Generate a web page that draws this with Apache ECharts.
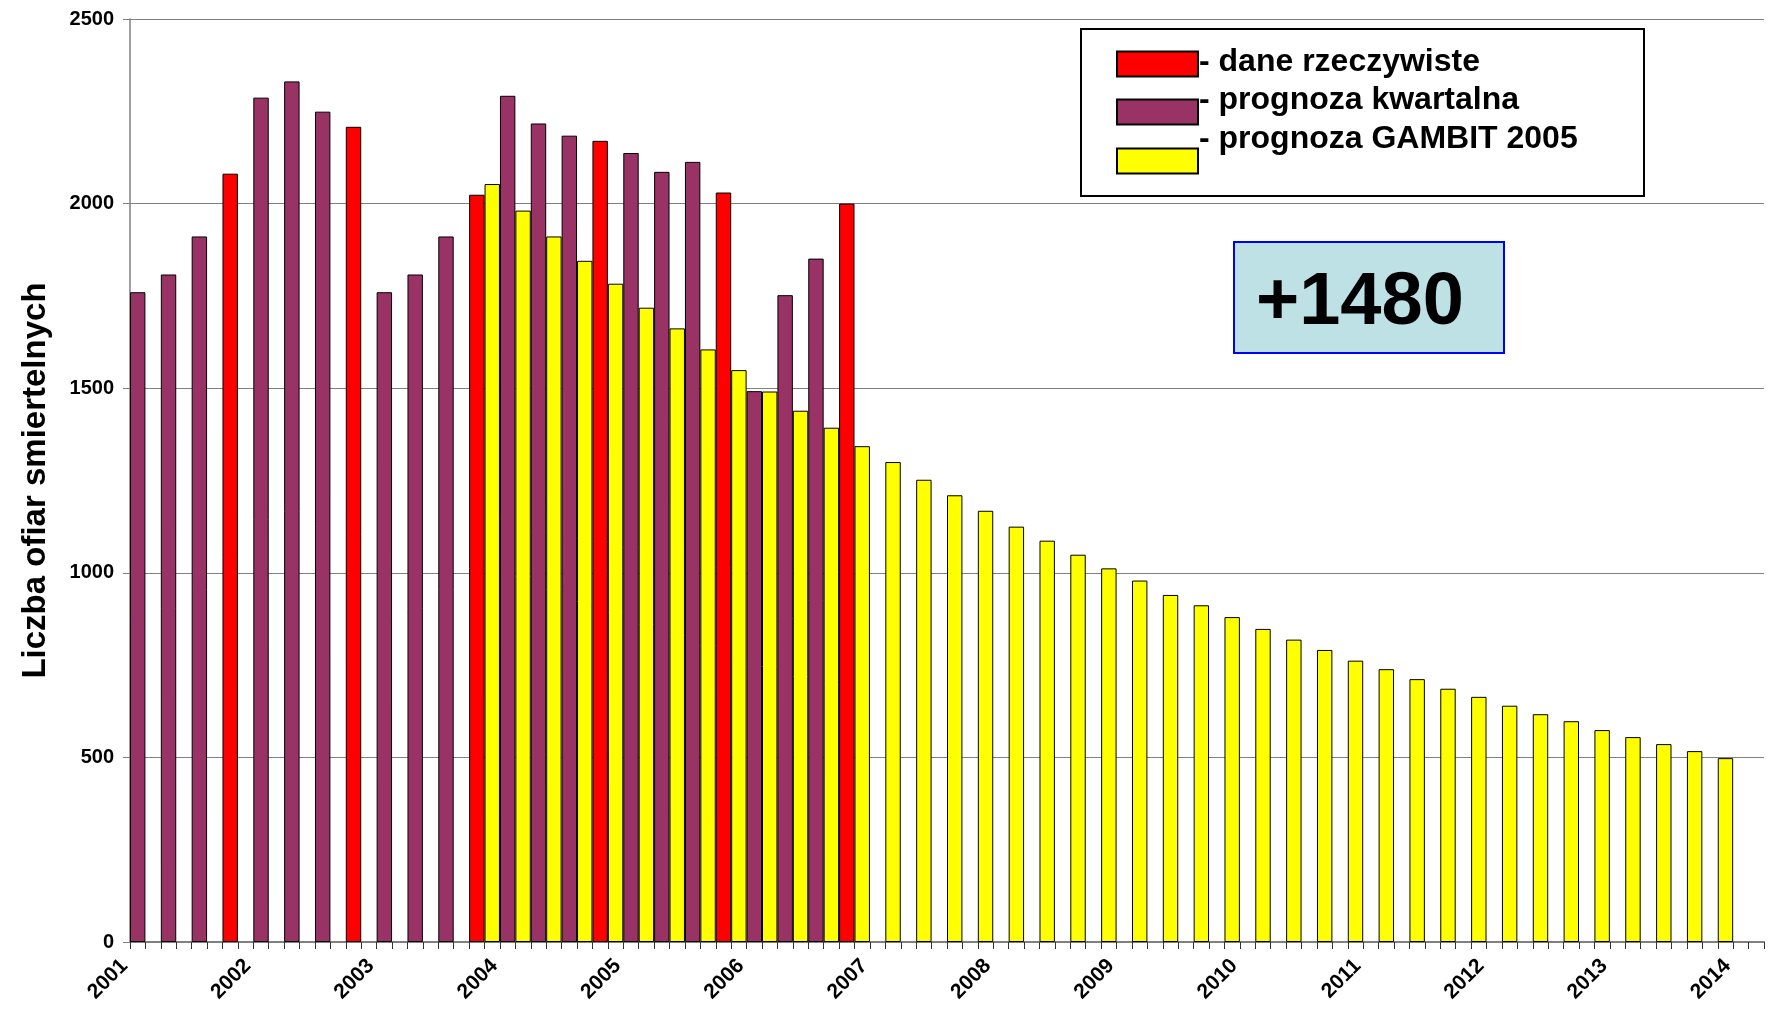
<!DOCTYPE html>
<html>
<head>
<meta charset="utf-8">
<script src="https://cdn.jsdelivr.net/npm/echarts@6/dist/echarts.min.js"></script>
<style>
html,body{margin:0;padding:0;background:#fff;}
#chart{width:1771px;height:1024px;}
</style>
</head>
<body>
<div id="chart"></div>
<script>
// ---- data ----
const years = ['2001','2002','2003','2004','2005','2006','2007','2008','2009','2010','2011','2012','2013','2014'];
const quarterNames = ['I','II','III','IV'];
// actual data (Q4 of each year 2001-2006)
const actualData = [2081, 2208, 2024, 2170, 2030, 2000];
// quarterly forecast, 2001 Q1 .. 2006 Q4 (Q4 = actual data)
const quarterlyForecast = [
  1760, 1808, 1911, null,
  2287, 2331, 2249, null,
  1760, 1808, 1911, null,
  2292, 2217, 2184, null,
  2137, 2086, 2113, null,
  1492, 1752, 1851, null
];
// GAMBIT 2005 forecast, 2001 Q1 .. 2013 Q4
const gambit2005 = [
  null, null, null, null,
  null, null, null, null,
  null, null, null, 2053,
  1981, 1911, 1845, 1783,
  1718, 1662, 1605, 1549,
  1491, 1439, 1393, 1343,
  1300, 1252, 1210, 1168,
  1125, 1087, 1049, 1012,
  979, 940, 912, 880,
  848, 819, 791, 762,
  739, 712, 686, 664,
  640, 617, 598, 574,
  555, 536, 517, 498
];
const seriesNames = ['dane rzeczywiste', 'prognoza kwartalna', 'prognoza GAMBIT 2005'];
const seriesColors = ['#FF0000', '#993366', '#FFFF00'];
const annotationText = '+1480';

// ---- build slots: two slots per quarter (left: actual/quarterly, right: GAMBIT) ----
const nQuarters = (years.length - 1) * 4 + 1;
const categories = [], redSlots = [], purpleSlots = [], yellowSlots = [];
for (let q = 0; q < nQuarters; q++) {
  const y = years[Math.floor(q / 4)];
  const qi = q % 4;
  categories.push(y + ' ' + quarterNames[qi] + ' a');
  categories.push(y + ' ' + quarterNames[qi] + ' b');
  const yIdx = Math.floor(q / 4);
  const isQ4 = qi === 3;
  redSlots.push(isQ4 && yIdx < actualData.length ? actualData[yIdx] : null);
  redSlots.push(null);
  purpleSlots.push(q < quarterlyForecast.length ? quarterlyForecast[q] : null);
  purpleSlots.push(null);
  yellowSlots.push(null);
  yellowSlots.push(q < gambit2005.length ? gambit2005[q] : null);
}

const FONT = "'Liberation Sans', Arial, sans-serif";
const chart = echarts.init(document.getElementById('chart'), null, {renderer: 'canvas'});

function legendFor(i, top, shift) {
  return {
    orient: 'vertical',
    left: 1116, top: top,
    padding: 0,
    itemWidth: 81, itemHeight: 25,
    icon: 'rect',
    formatter: name => '{t|- ' + name + '}',
    textStyle: {
      fontFamily: FONT, fontWeight: 'bold', fontSize: 32, color: '#000',
      rich: {
        t: {fontFamily: FONT, fontWeight: 'bold', fontSize: 32, color: '#000',
            lineHeight: 25, padding: [0, 0, 2 * shift, -4]}
      }
    },
    data: [seriesNames[i]],
    z: 10
  };
}

const barBase = {
  type: 'bar',
  barWidth: '100%',
  barGap: '-100%',
  barCategoryGap: 0,
  xAxisIndex: 0
};
chart.setOption({
  animation: false,
  backgroundColor: '#fff',
  grid: {left: 130, right: 7, top: 19, bottom: 82, containLabel: false},
  legend: [legendFor(0, 46, 2), legendFor(1, 84, 12), legendFor(2, 123, 22)],
  xAxis: [{
    type: 'category',
    data: categories,
    position: 'bottom',
    axisLine: {lineStyle: {color: '#808080', width: 2}},
    axisTick: {show: true, interval: 0, length: 7, lineStyle: {color: '#333', width: 1}},
    axisLabel: {show: false},
    splitLine: {show: false}
  }, {
    type: 'value',
    position: 'bottom',
    min: 0,
    max: categories.length,
    interval: 8,
    axisLine: {show: false},
    axisTick: {show: false},
    splitLine: {show: false},
    axisLabel: {
      show: true,
      rotate: 45,
      margin: 15,
      showMaxLabel: false,
      padding: [0, 8, 0, 0],
      fontFamily: FONT, fontWeight: 'bold', fontSize: 21, color: '#000',
      formatter: v => (v % 8 === 0 && years[v / 8]) ? years[v / 8] : ''
    }
  }],
  yAxis: {
    type: 'value',
    min: 0, max: 2500, interval: 500,
    name: 'Liczba ofiar smiertelnych',
    nameLocation: 'middle',
    nameGap: 78,
    nameRotate: 90,
    nameTextStyle: {fontFamily: FONT, fontWeight: 'bold', fontSize: 33, color: '#000'},
    axisLine: {show: true, lineStyle: {color: '#808080', width: 1.5}},
    axisTick: {show: true, length: 7, lineStyle: {color: '#808080'}},
    axisLabel: {fontFamily: FONT, fontWeight: 'bold', fontSize: 20, color: '#000', margin: 16,
                formatter: v => String(v)},
    splitLine: {show: true, lineStyle: {color: '#808080', width: 1.2}}
  },
  graphic: [
    {type: 'rect', left: 1080, top: 28, shape: {width: 563, height: 167}, z: 3,
     style: {fill: '#fff', stroke: '#000', lineWidth: 2}},
    {type: 'rect', left: 1233, top: 241, shape: {width: 270, height: 111}, z: 3,
     style: {fill: '#BDE1E4', stroke: '#0000FF', lineWidth: 2}},
    {type: 'text', left: 1256, top: 267, z: 4,
     style: {text: annotationText, font: "bold 74px 'Liberation Sans', Arial, sans-serif", fill: '#000'}}
  ],
  series: seriesNames.map((name, i) => Object.assign({}, barBase, {
    name: name,
    data: [redSlots, purpleSlots, yellowSlots][i],
    itemStyle: {color: seriesColors[i], borderColor: '#000', borderWidth: 1}
  }))
});
</script>
</body>
</html>
